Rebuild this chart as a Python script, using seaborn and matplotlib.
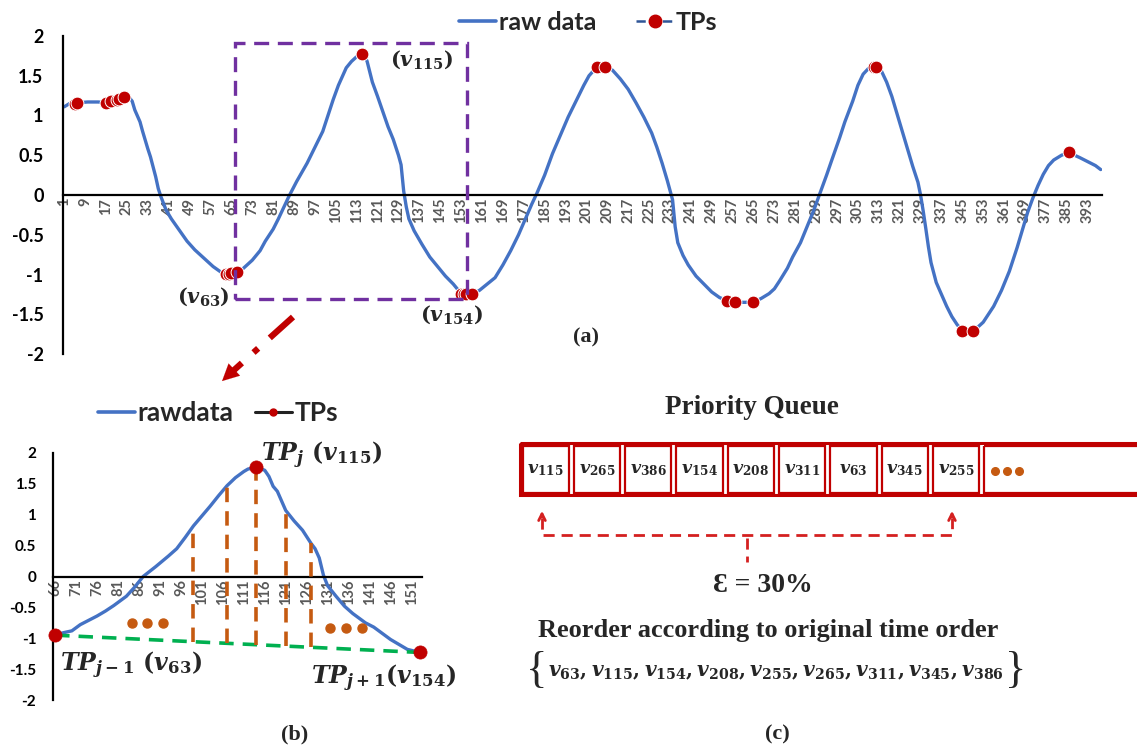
import numpy as np
import pandas as pd
import matplotlib
matplotlib.use('Agg')
import matplotlib.pyplot as plt
import seaborn as sns
from matplotlib.lines import Line2D
from matplotlib.patches import Rectangle

# ---------------- data: panel (a) ----------------
a_index = [1, 3, 5, 6, 10, 14, 17, 19, 21, 22, 24, 26, 27, 28, 30, 31, 33, 34, 36, 37, 38, 40, 42, 45, 48,
           51, 54, 58, 61, 63, 64, 65, 67, 69, 71, 73, 76, 78, 81, 83, 85, 87, 90, 94, 97, 100, 102, 104,
           106, 109, 111, 113, 115, 116, 117, 118, 119, 121, 123, 125, 127, 129, 130, 131, 132, 133, 135,
           138, 141, 144, 147, 150, 152, 153, 154, 155, 157, 160, 163, 166, 169, 172, 175, 178, 180, 182,
           185, 188, 191, 194, 197, 200, 202, 205, 208, 211, 214, 217, 220, 223, 226, 228, 230, 232, 233,
           234, 235, 236, 238, 240, 243, 246, 249, 252, 255, 258, 261, 265, 268, 271, 273, 275, 278, 280,
           283, 285, 288, 290, 293, 295, 298, 300, 303, 305, 307, 309, 311, 312, 314, 316, 318, 320, 322,
           324, 326, 328, 329, 330, 331, 332, 333, 335, 337, 339, 341, 343, 345, 349, 351, 353, 355, 357,
           360, 363, 366, 368, 370, 372, 374, 376, 378, 380, 383, 386, 388, 390, 393, 396, 398]
a_value = [1.11, 1.15, 1.15, 1.16, 1.17, 1.17, 1.16, 1.18, 1.19, 1.21, 1.23, 1.22, 1.18, 1.07, 0.92, 0.80,
           0.58, 0.48, 0.23, 0.08, -0.02, -0.19, -0.30, -0.44, -0.58, -0.69, -0.78, -0.90, -0.97, -0.99,
           -0.99, -0.98, -0.97, -0.94, -0.88, -0.82, -0.70, -0.58, -0.43, -0.30, -0.16, -0.02, 0.17, 0.40,
           0.60, 0.80, 1.00, 1.20, 1.38, 1.60, 1.68, 1.74, 1.77, 1.76, 1.68, 1.55, 1.42, 1.24, 1.05, 0.86,
           0.70, 0.50, 0.38, 0.05, -0.15, -0.30, -0.45, -0.62, -0.78, -0.90, -1.02, -1.12, -1.20, -1.24,
           -1.24, -1.25, -1.25, -1.20, -1.12, -1.04, -0.88, -0.70, -0.50, -0.27, -0.12, 0.02, 0.25, 0.52,
           0.75, 0.98, 1.18, 1.38, 1.50, 1.61, 1.61, 1.57, 1.46, 1.33, 1.16, 0.98, 0.78, 0.60, 0.40, 0.18,
           0.06, -0.06, -0.40, -0.60, -0.76, -0.88, -1.02, -1.12, -1.22, -1.29, -1.33, -1.35, -1.35, -1.35,
           -1.30, -1.24, -1.18, -1.08, -0.92, -0.78, -0.60, -0.44, -0.20, -0.02, 0.25, 0.44, 0.72, 0.92,
           1.18, 1.38, 1.52, 1.59, 1.61, 1.61, 1.56, 1.42, 1.24, 1.02, 0.80, 0.58, 0.36, 0.16, 0.00, -0.20,
           -0.42, -0.65, -0.85, -1.10, -1.25, -1.40, -1.53, -1.63, -1.71, -1.71, -1.66, -1.60, -1.50, -1.40,
           -1.20, -0.96, -0.66, -0.44, -0.22, -0.04, 0.12, 0.26, 0.37, 0.44, 0.50, 0.54, 0.50, 0.47, 0.42,
           0.37, 0.32]
a_tp_index = [5, 6, 17, 19, 21, 22, 24, 63, 64, 65, 67, 115, 153, 154, 155, 157, 205, 208,
              255, 258, 265, 311, 312, 345, 349, 386]
a_xticks = list(range(1, 394, 8))

# ---------------- data: panel (b) ----------------
b_index = [66, 68, 70, 72, 74, 76, 78, 80, 83, 85, 87, 90, 93, 95, 97, 99, 101, 103, 105, 107, 109, 111,
           112, 114, 116, 117, 118, 119, 121, 123, 125, 127, 128, 129, 130, 131, 133, 135, 137, 140, 142,
           144, 146, 148, 150, 153]
b_value = [-0.95, -0.91, -0.88, -0.78, -0.71, -0.64, -0.56, -0.47, -0.32, -0.17, 0.00, 0.16, 0.33, 0.45,
           0.63, 0.82, 0.98, 1.14, 1.31, 1.47, 1.60, 1.70, 1.74, 1.77, 1.72, 1.62, 1.46, 1.38, 1.07, 0.90,
           0.75, 0.54, 0.45, 0.30, 0.02, -0.15, -0.32, -0.48, -0.60, -0.75, -0.82, -0.92, -1.02, -1.10,
           -1.18, -1.23]
b_tp_index = [66, 114, 153]
b_drop_index = [99, 107, 114, 121, 127]
b_xticks = list(range(66, 152, 5))

# ---------------- data: panel (c) ----------------
queue = ['115', '265', '386', '154', '208', '311', '63', '345', '255']
epsilon = '30%'

y_ticks = [-2, -1.5, -1, -0.5, 0, 0.5, 1, 1.5, 2]
y_tick_labels = ['-2', '-1.5', '-1', '-0.5', '0', '0.5', '1', '1.5', '2']

# ---------------- style ----------------
BLUE = '#4472C4'
RED = '#C00000'
PURPLE = '#7030A0'
ORANGE = '#C55A11'
GREEN = '#00B050'
GRAY = '#595959'

sns.set_theme(style='white')
plt.rcParams['font.family'] = ['Lato', 'DejaVu Sans']
plt.rcParams['axes.unicode_minus'] = False
plt.rcParams['mathtext.fontset'] = 'custom'
plt.rcParams['mathtext.it'] = 'DejaVu Serif:italic:bold'
plt.rcParams['mathtext.rm'] = 'DejaVu Serif:bold'
plt.rcParams['mathtext.bf'] = 'DejaVu Serif:bold'

W, H = 1137, 747
fig = plt.figure(figsize=(W / 100, H / 100), dpi=100)


def fx(px):
    return px / W


def fy(py):
    return 1 - py / H


def style_axes(ax, xticks, yfont, ypad, xfont):
    for s in ['top', 'right']:
        ax.spines[s].set_visible(False)
    ax.spines['bottom'].set_position(('data', 0))
    for s in ['left', 'bottom']:
        ax.spines[s].set_color('black')
        ax.spines[s].set_linewidth(1.6)
    ax.set_yticks(y_ticks)
    ax.set_yticklabels(y_tick_labels, fontsize=yfont, fontweight='bold', color='black')
    ax.set_xticks(xticks)
    ax.set_xticklabels([str(t) for t in xticks], rotation=90, fontsize=xfont,
                       fontweight='bold', color=GRAY)
    ax.tick_params(axis='both', length=0)
    ax.tick_params(axis='y', pad=ypad)
    ax.tick_params(axis='x', pad=2)
    ax.set_xlabel('')
    ax.set_ylabel('')
    ax.grid(False)


# ---------------- panel (a) ----------------
axa = fig.add_axes([fx(63), fy(354), fx(1102 - 63), (354 - 36) / H])
dfa = pd.DataFrame({'t': a_index, 'v': a_value})
sns.lineplot(data=dfa, x='t', y='v', ax=axa, color=BLUE, linewidth=2.4, sort=False, legend=False)
tpa = dfa[dfa['t'].isin(a_tp_index)]
sns.scatterplot(data=tpa, x='t', y='v', ax=axa, color=RED, s=85, edgecolor='white',
                linewidth=0.7, zorder=5, legend=False)
axa.set_xlim(0.5, 398.5)
axa.set_ylim(-2, 2)
style_axes(axa, a_xticks, 13, 14, 10.5)
axa.add_patch(Rectangle((66.3, -1.31), 155.2 - 66.3, 1.91 + 1.31, fill=False,
                        edgecolor=PURPLE, linewidth=2.4, linestyle=(0, (4.5, 2.6)),
                        clip_on=False, zorder=6))

# ---------------- panel (b) ----------------
axb = fig.add_axes([fx(53), fy(700), fx(422 - 53), (700 - 453) / H])
dfb = pd.DataFrame({'t': b_index, 'v': b_value})
sns.lineplot(data=dfb, x='t', y='v', ax=axb, color=BLUE, linewidth=2.4, sort=False, legend=False)
tpb = dfb[dfb['t'].isin(b_tp_index)]
x0, y0 = tpb['t'].iloc[0], tpb['v'].iloc[0]
x1, y1 = tpb['t'].iloc[-1], tpb['v'].iloc[-1]
axb.plot([x0, x1], [y0, y1], color=GREEN, linewidth=2.6, linestyle=(0, (4, 2.5)), zorder=3)
drops = dfb[dfb['t'].isin(b_drop_index)]
chord = y0 + (y1 - y0) * (drops['t'] - x0) / (x1 - x0)
axb.vlines(drops['t'], chord, drops['v'], color=ORANGE, linewidth=2.6,
           linestyle=(0, (4, 2.5)), zorder=3)
sns.scatterplot(data=tpb, x='t', y='v', ax=axb, color=RED, s=90, edgecolor=RED,
                linewidth=0.5, zorder=6, legend=False)
for c in axb.collections:
    c.set_clip_on(False)
axb.set_xlim(65.5, 153.5)
axb.set_ylim(-2, 2)
style_axes(axb, b_xticks, 11, 12, 10.5)

# ---------------- legends ----------------
h_raw = Line2D([], [], color=BLUE, linewidth=2.6)
h_tp_a = Line2D([], [], color='#2F5597', linewidth=1.8, linestyle='--', marker='o',
                markerfacecolor=RED, markeredgecolor=RED, markersize=9)
fig.legend([h_raw, h_tp_a], ['raw data', 'TPs'], loc='center', bbox_to_anchor=(fx(588), fy(22)),
           ncol=2, frameon=False, handlelength=1.5, handletextpad=0.1, columnspacing=1.6,
           prop={'family': 'Lato', 'weight': 'bold', 'size': 18})
h_tp_b = Line2D([], [], color='#222222', linewidth=2.2, marker='o',
                markerfacecolor=RED, markeredgecolor=RED, markersize=5)
fig.legend([h_raw, h_tp_b], ['rawdata', 'TPs'], loc='center', bbox_to_anchor=(fx(218), fy(413)),
           ncol=2, frameon=False, handlelength=1.4, handletextpad=0.1, columnspacing=0.8,
           prop={'family': 'Lato', 'weight': 'bold', 'size': 19})

# ---------------- overlay (annotations, panel c) ----------------
ov = fig.add_axes([0, 0, 1, 1], zorder=10)
ov.set_xlim(0, W)
ov.set_ylim(H, 0)
ov.axis('off')
ov.patch.set_alpha(0)

SERIF = ['Liberation Serif', 'DejaVu Serif']

# panel (a) labels
ov.text(203, 297, r'$(v_{63})$', fontsize=15, ha='center', va='center')
ov.text(421, 60, r'$(v_{115})$', fontsize=15, ha='center', va='center')
ov.text(451, 315, r'$(v_{154})$', fontsize=15, ha='center', va='center')
ov.text(586, 337, '(a)', fontsize=16, fontweight='bold', family=SERIF, ha='center', va='center')

# red dash-dot arrow from (a) to (b)
ov.plot([293, 233], [317, 371], color=RED, linewidth=4.5, linestyle=(0, (5, 2.5, 1, 2.5)),
        solid_capstyle='butt')
ov.annotate('', xy=(220, 383), xytext=(236, 368),
            arrowprops=dict(arrowstyle='-|>', color=RED, lw=0.1, mutation_scale=30))

# panel (b) labels
ov.text(322, 455, r'$TP_{j}\ (v_{115})$', fontsize=17, ha='center', va='center')
ov.text(131, 665, r'$TP_{j-1}\ (v_{63})$', fontsize=17, ha='center', va='center')
ov.text(384, 678, r'$TP_{j+1}(v_{154})$', fontsize=17, ha='center', va='center')
ov.text(295, 734, '(b)', fontsize=16, fontweight='bold', family=SERIF, ha='center', va='center')
for xs, yv in [([132, 147, 163], 623), ([330, 346, 362], 628)]:
    ov.plot(xs, [yv] * 3, linestyle='none', marker='o', markersize=6.5, color=ORANGE)

# panel (c)
ov.text(752, 408, 'Priority Queue', fontsize=19.5, fontweight='bold', family=SERIF,
        ha='center', va='center')
cx0, cw, ctop, cbot = 520.0, 51.3, 443.0, 495.0
ov.add_patch(Rectangle((cx0, ctop), 700, cbot - ctop, fill=False, edgecolor=RED, linewidth=2.2))
for k in range(len(queue) + 1):
    wk = cw - 5 if k < len(queue) else 300
    ov.add_patch(Rectangle((cx0 + k * cw + 2.5, ctop + 2.5), wk, cbot - ctop - 5, fill=False,
                           edgecolor=RED, linewidth=1.6))
for k, q in enumerate(queue):
    ov.text(cx0 + (k + 0.5) * cw, 470, r'$v_{%s}$' % q, fontsize=12.5, ha='center', va='center')
last_c = cx0 + len(queue) * cw
ov.plot([last_c + 13, last_c + 25, last_c + 37], [471] * 3, linestyle='none', marker='o',
        markersize=5.5, color=ORANGE)

BR = '#D42020'
ov.plot([542, 542, 952, 952], [518, 535, 535, 518], color=BR, linewidth=2,
        linestyle=(0, (4, 2.5)))
for xa in (542, 952):
    ov.annotate('', xy=(xa, 508), xytext=(xa, 520),
                arrowprops=dict(arrowstyle='->', color=BR, lw=2))
ov.plot([747, 747], [538, 562], color=BR, linewidth=2, linestyle=(0, (4, 2.5)))

ov.text(763, 585, '\u0190 = ' + epsilon, fontsize=20, fontweight='bold', family=SERIF,
        ha='center', va='center')
ov.text(768, 630, 'Reorder according to original time order', fontsize=19, fontweight='bold',
        family=SERIF, ha='center', va='center')
ordered = sorted(queue, key=int)
set_txt = '$' + ','.join('v_{%s}' % q for q in ordered) + '$'
t_set = ov.text(776, 673, set_txt, fontsize=14.5, ha='center', va='center')
fig.canvas.draw()
bb = t_set.get_window_extent(fig.canvas.get_renderer())
ov.text(bb.x0 - 1, 671, '{', fontsize=32, family=SERIF, ha='right', va='center')
ov.text(bb.x1 + 1, 671, '}', fontsize=32, family=SERIF, ha='left', va='center')
ov.text(777, 734, '(c)', fontsize=16, fontweight='bold', family=SERIF, ha='center', va='center')

fig.savefig('out.png', dpi=100)
